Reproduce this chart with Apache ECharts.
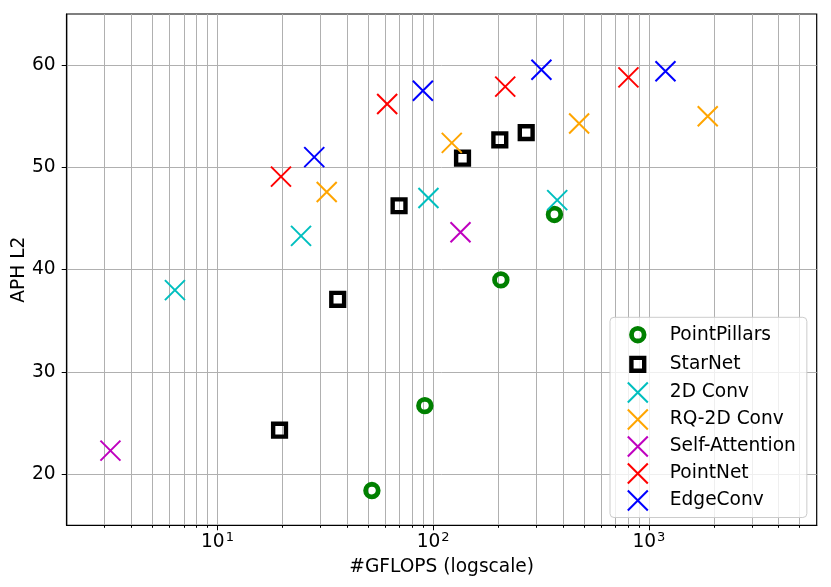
<!DOCTYPE html>
<html>
<head>
<meta charset="utf-8">
<script src="https://cdn.jsdelivr.net/npm/echarts@6/dist/echarts.min.js"></script>
<style>
  html, body { margin: 0; padding: 0; background: #fff; }
  #chart { width: 831px; height: 587px; }
</style>
</head>
<body>
<div id="chart"></div>
<script>
// ---- data ----
const seriesNames = ['PointPillars', 'StarNet', '2D Conv', 'RQ-2D Conv', 'Self-Attention', 'PointNet', 'EdgeConv'];

const pointPillarsGflops = [52.0, 91.5, 206, 365];
const pointPillarsAph    = [18.4, 26.7, 39.0, 45.4];

const starNetGflops = [19.4, 36.1, 69.5, 136.8, 203.7, 270];
const starNetAph    = [24.3, 37.1, 46.25, 50.9, 52.7, 53.4];

const conv2dGflops = [6.35, 24.4, 95.1, 376];
const conv2dAph    = [38.0, 43.3, 47.0, 46.8];

const rqConv2dGflops = [32.1, 122, 475, 1875];
const rqConv2dAph    = [47.6, 52.4, 54.3, 55.0];

const selfAttentionGflops = [3.19, 133.9];
const selfAttentionAph    = [22.3, 43.65];

const pointNetGflops = [19.7, 61.2, 215.8, 804];
const pointNetAph    = [49.1, 56.2, 57.9, 58.8];

const edgeConvGflops = [28.1, 89.6, 317.6, 1194];
const edgeConvAph    = [51.0, 57.5, 59.55, 59.4];

const xMajorTicks = [10, 100, 1000];
const xMinorTicks = [3, 4, 5, 6, 7, 8, 9, 20, 30, 40, 50, 60, 70, 80, 90,
                     200, 300, 400, 500, 600, 700, 800, 900, 2000, 3000, 4000, 5000];
const yTicks = [20, 30, 40, 50, 60];
const xLimits = [2, 6000];
const yLimits = [15, 65];

// ---- styles ----
const FONT = 'DejaVu Sans';
const FS = 18.6;
const CIRCLE = 'path://M0,0M20,20M16.3,10A6.3,6.3,0,1,1,3.7,10A6.3,6.3,0,1,1,16.3,10Z';
const SQUARE = 'path://M0,0M20,20M3.6,3.6L16.4,3.6L16.4,16.4L3.6,16.4Z';
const CROSS  = 'path://M0,0L20,20M20,0L0,20';

const seriesStyles = [
  { color: '#008000', symbol: CIRCLE, width: 4.8 },
  { color: '#000000', symbol: SQUARE, width: 4.4 },
  { color: '#00bfbf', symbol: CROSS, width: 2 },
  { color: '#ffa500', symbol: CROSS, width: 2 },
  { color: '#bf00bf', symbol: CROSS, width: 2 },
  { color: '#ff0000', symbol: CROSS, width: 2 },
  { color: '#0000ff', symbol: CROSS, width: 2 }
];
const seriesX = [pointPillarsGflops, starNetGflops, conv2dGflops, rqConv2dGflops, selfAttentionGflops, pointNetGflops, edgeConvGflops];
const seriesY = [pointPillarsAph, starNetAph, conv2dAph, rqConv2dAph, selfAttentionAph, pointNetAph, edgeConvAph];

const lg = v => Math.log10(v);
const gridLine = { show: true, lineStyle: { color: '#b0b0b0', width: 1 } };

const series = seriesNames.map((name, k) => ({
  type: 'scatter',
  name: name,
  data: seriesX[k].map((x, i) => [lg(x), seriesY[k][i]]),
  symbol: seriesStyles[k].symbol,
  symbolSize: 20,
  itemStyle: { color: 'rgba(0,0,0,0)', borderColor: seriesStyles[k].color, borderWidth: seriesStyles[k].width, opacity: 1 },
  emphasis: { disabled: true },
  z: 3
}));

const chart = echarts.init(document.getElementById('chart'), null, { renderer: 'canvas' });
chart.setOption({
  animation: false,
  backgroundColor: '#fff',
  grid: {
    left: 66.7, right: 14.3, top: 14, bottom: 61.7,
    show: true, borderColor: '#000', borderWidth: 1.2, backgroundColor: 'transparent',
    outerBoundsMode: 'none'
  },
  xAxis: [
    {
      type: 'value',
      min: lg(xLimits[0]), max: lg(xLimits[1]),
      axisLine: { show: true, onZero: false, lineStyle: { color: '#000', width: 1.2 } },
      axisTick: { show: true, customValues: xMajorTicks.map(lg), length: 5, lineStyle: { color: '#000', width: 1 } },
      axisLabel: {
        customValues: xMajorTicks.map(lg),
        margin: 6,
        formatter: v => '{b|10}{s|' + Math.round(v) + '}',
        rich: {
          b: { fontSize: FS, fontFamily: FONT, color: '#000', lineHeight: 21 },
          s: { fontSize: 13, fontFamily: FONT, color: '#000', lineHeight: 21, verticalAlign: 'top', padding: [0, 0, 0, 1] }
        }
      },
      splitLine: gridLine,
      name: '#GFLOPS (logscale)',
      nameLocation: 'middle',
      nameGap: 32,
      nameMoveOverlap: false,
      nameTextStyle: { fontSize: FS, fontFamily: FONT, color: '#000' }
    },
    {
      type: 'value',
      min: lg(xLimits[0]), max: lg(xLimits[1]),
      position: 'bottom',
      axisLine: { show: false },
      axisTick: { show: true, customValues: xMinorTicks.map(lg), length: 2.5, lineStyle: { color: '#000', width: 1 } },
      axisLabel: { show: false },
      splitLine: gridLine
    }
  ],
  yAxis: {
    type: 'value',
    min: yLimits[0], max: yLimits[1],
    axisLine: { show: true, onZero: false, lineStyle: { color: '#000', width: 1.2 } },
    axisTick: { show: true, customValues: yTicks, length: 5, lineStyle: { color: '#000', width: 1 } },
    axisLabel: { customValues: yTicks, margin: 11, fontSize: FS, fontFamily: FONT, color: '#000' },
    splitLine: gridLine,
    name: 'APH L2',
    nameLocation: 'middle',
    nameGap: 38,
    nameRotate: 90,
    nameMoveOverlap: false,
    nameTextStyle: { fontSize: FS, fontFamily: FONT, color: '#000' }
  },
  legend: {
    orient: 'vertical',
    left: 610, top: 317.3,
    padding: [5, 11, 6, 15.4],
    itemWidth: 20, itemHeight: 20, itemGap: 5,
    backgroundColor: 'rgba(255,255,255,0.8)',
    borderColor: '#cccccc', borderWidth: 1, borderRadius: 4,
    selectedMode: false,
    itemStyle: { borderWidth: 'inherit', opacity: 1 },
    textStyle: { fontSize: FS, fontFamily: FONT, color: '#000', lineHeight: 20, padding: [0, 0, 0, 17] },
    data: seriesNames
  },
  series: series
});
</script>
</body>
</html>
